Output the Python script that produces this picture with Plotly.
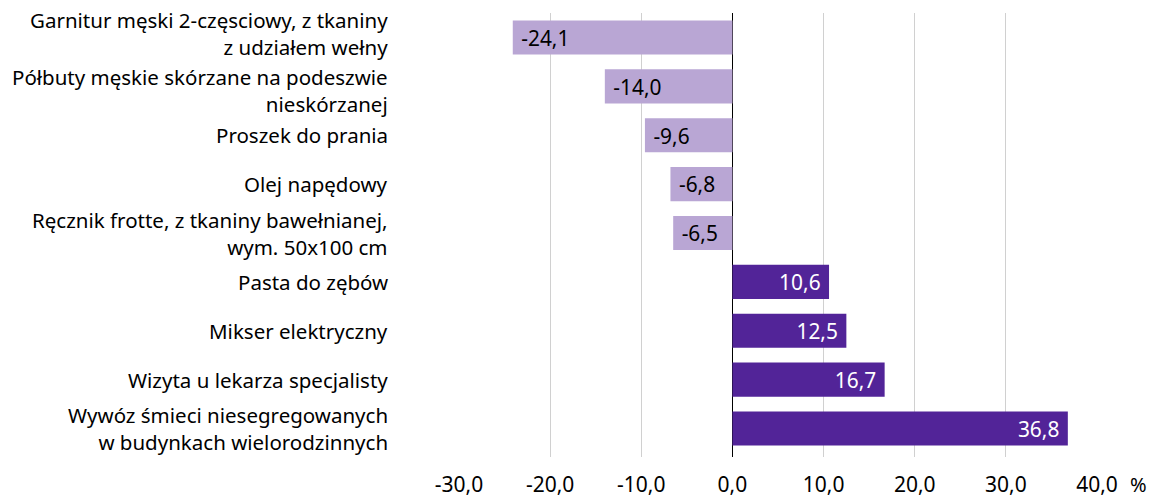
import plotly.graph_objects as go

categories = [
    "Garnitur męski 2-częsciowy, z tkaniny<br>z udziałem wełny",
    "Półbuty męskie skórzane na podeszwie<br>nieskórzanej",
    "Proszek do prania",
    "Olej napędowy",
    "Ręcznik frotte, z tkaniny bawełnianej,<br>wym. 50x100 cm",
    "Pasta do zębów",
    "Mikser elektryczny",
    "Wizyta u lekarza specjalisty",
    "Wywóz śmieci niesegregowanych<br>w budynkach wielorodzinnych",
]
values = [-24.1, -14.0, -9.6, -6.8, -6.5, 10.6, 12.5, 16.7, 36.8]
tick_vals = [-30, -20, -10, 0, 10, 20, 30, 40]
tick_text = ["-30,0", "-20,0", "-10,0", "0,0", "10,0", "20,0", "30,0", "40,0"]

NEG = "#b9a6d4"
POS = "#522498"
NBSP = "\u00a0"
colors = [NEG if v < 0 else POS for v in values]
text_colors = ["#000000" if v < 0 else "#ffffff" for v in values]
labels = [
    (NBSP + f"{v:.1f}".replace(".", ",")) if v < 0 else (f"{v:.1f}".replace(".", ",") + NBSP)
    for v in values
]

FONT = "Noto Sans, Open Sans, sans-serif"

fig = go.Figure(go.Bar(
    y=categories, x=values, orientation="h",
    marker=dict(color=colors, line=dict(width=0)),
    text=labels, textposition="inside", insidetextanchor="end",
    textfont=dict(family=FONT, size=21.5, color=text_colors),
    textangle=0, cliponaxis=False, hoverinfo="skip",
))

fig.update_layout(
    width=1151, height=498,
    margin=dict(l=459, r=54, t=13, b=41),
    plot_bgcolor="white", paper_bgcolor="white",
    bargap=0.3, showlegend=False,
    font=dict(family=FONT, size=20, color="#000000"),
    uniformtext=dict(mode=False),
)
fig.update_xaxes(
    range=[-30, 40], tickvals=tick_vals, ticktext=tick_text,
    showgrid=True, gridcolor="#d0d0d0", gridwidth=1,
    zeroline=True, zerolinecolor="#000000", zerolinewidth=1,
    showline=False, ticks="", ticklabelstandoff=13, automargin=False,
    tickfont=dict(family=FONT, size=21, color="#000000"),
)
fig.update_yaxes(
    autorange="reversed", showgrid=False, showline=False, ticks="",
    showticklabels=False, automargin=False,
)

# category labels at each category position (small nudges keep the
# two adjacent two-line labels at the top from touching)
label_nudge = {0: 4, 1: -4}
for i, cat in enumerate(categories):
    fig.add_annotation(
        x=0, xref="paper", xanchor="right", xshift=-70,
        y=cat, yref="y", yanchor="middle", yshift=label_nudge.get(i, 0),
        text=cat, align="right", showarrow=False, borderpad=0,
        font=dict(family=FONT, size=20.5, color="#000000"),
    )

fig.add_annotation(
    x=1, xref="paper", xanchor="center", xshift=41,
    y=0, yref="paper", yanchor="middle", yshift=-27,
    text="%", showarrow=False, borderpad=0,
    font=dict(family=FONT, size=20, color="#000000"),
)

fig.write_html(
    "out.html",
    config={"displayModeBar": False},
    post_script="document.body.style.margin='0';",
)
